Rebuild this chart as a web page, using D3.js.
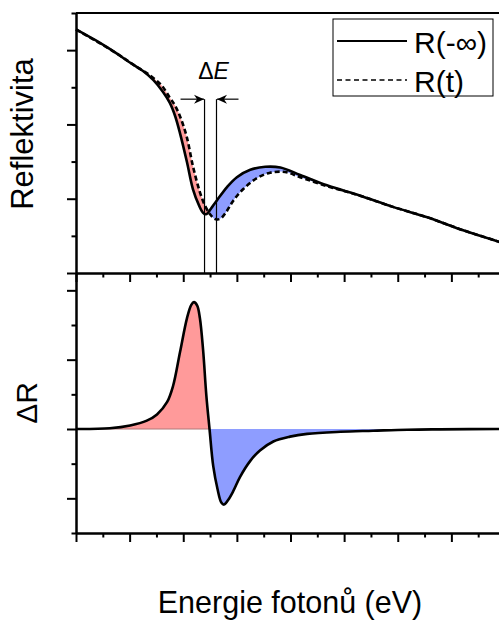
<!DOCTYPE html>
<html>
<head>
<meta charset="utf-8">
<script src="https://cdn.jsdelivr.net/npm/d3@7"></script>
<style>
  body { margin: 0; background: #fff; }
  text { font-family: "Liberation Sans", Arial, sans-serif; fill: #000; }
</style>
</head>
<body>
<div id="container"></div>
<script>
/* DATA */
// R(-inf), solid
const energySolid = [1.600, 1.637, 1.675, 1.699, 1.725, 1.744, 1.762, 1.775, 1.785, 1.794, 1.807, 1.818,
  1.830, 1.837, 1.842, 1.846, 1.854, 1.863, 1.882, 1.900, 1.925, 1.953, 1.981, 2.018, 2.068, 2.130,
  2.191, 2.255, 2.316, 2.389, 2.400];
const reflSolid = [0.528, 0.513, 0.496, 0.484, 0.472, 0.460, 0.444, 0.429, 0.411, 0.388, 0.349, 0.313,
  0.290, 0.281, 0.279, 0.281, 0.289, 0.298, 0.316, 0.329, 0.339, 0.343, 0.342, 0.332, 0.318, 0.304,
  0.289, 0.275, 0.259, 0.242, 0.239];

// R(t), dashed
const energyDashed = [1.600, 1.675, 1.712, 1.734, 1.759, 1.774, 1.785, 1.796, 1.807, 1.818, 1.831, 1.841,
  1.850, 1.858, 1.864, 1.871, 1.880, 1.893, 1.912, 1.938, 1.962, 1.990, 2.018, 2.068, 2.102, 2.130,
  2.191, 2.255, 2.316, 2.389, 2.400];
const reflDashed = [0.528, 0.496, 0.478, 0.468, 0.453, 0.437, 0.425, 0.407, 0.382, 0.344, 0.309, 0.290,
  0.279, 0.273, 0.272, 0.274, 0.282, 0.297, 0.313, 0.328, 0.335, 0.336, 0.329, 0.317, 0.310, 0.304,
  0.289, 0.275, 0.259, 0.242, 0.239];

// delta R = R(t) - R(-inf)
const energyDelta = [1.600, 1.663, 1.701, 1.732, 1.751, 1.770, 1.781, 1.794, 1.807, 1.815, 1.820, 1.826,
  1.831, 1.837, 1.843, 1.849, 1.856, 1.864, 1.871, 1.876, 1.884, 1.893, 1.906, 1.925, 1.943, 1.968,
  1.999, 2.031, 2.093, 2.154, 2.218, 2.279, 2.400];
const deltaR = [0.00, 0.01, 0.05, 0.12, 0.21, 0.39, 0.62, 1.11, 1.60, 1.79, 1.83, 1.78,
  1.60, 1.14, 0.49, 0.00, -0.54, -0.87, -1.06, -1.09, -1.02, -0.90, -0.69, -0.46, -0.31, -0.18,
  -0.11, -0.07, -0.04, -0.025, -0.01, -0.005, 0.00];

// shift markers (positions of the two minima)
const minSolid = 1.8397;
const minDashed = 1.862;
const markerTop = 0.434;

// ticks
const xMajor = [1.6, 1.7, 1.8, 1.9, 2.0, 2.1, 2.2, 2.3, 2.4];
const xMinor = [1.65, 1.75, 1.85, 1.95, 2.05, 2.15, 2.25, 2.35];
const rMajor = [0.2, 0.3, 0.4, 0.5];
const rMinor = [0.25, 0.35, 0.45, 0.55];
const dMajor = [-1, 0, 1, 2];
const dMinor = [-1.5, -0.5, 0.5, 1.5];

const legendLabels = ["R(-\u221E)", "R(t)"];

/* LAYOUT */
const width = 499, height = 620;
const left = 76, right = 505;
const topY = 13, midY = 273, botY = 533;

const svg = d3.select("#container")
  .append("svg")
  .attr("width", width)
  .attr("height", height);

/* SCALES */
const xScale = d3.scaleLinear().domain([1.6, 2.4]).range([left, right]);
const yTop = d3.scaleLinear().domain([0.2, 0.55]).range([midY, topY]);
const yBot = d3.scaleLinear().domain([-1.5, 2.25]).range([botY, midY]);

const solid = energySolid.map((e, i) => ({ e, r: reflSolid[i] }));
const dashed = energyDashed.map((e, i) => ({ e, r: reflDashed[i] }));
const delta = energyDelta.map((e, i) => ({ e, r: deltaR[i] }));

const defs = svg.append("defs");
const xCross = xScale(1.849);
defs.append("clipPath").attr("id", "clipLeft")
  .append("rect").attr("x", left).attr("y", topY).attr("width", xCross - left).attr("height", midY - topY);
defs.append("clipPath").attr("id", "clipRight")
  .append("rect").attr("x", xCross).attr("y", topY).attr("width", right - xCross).attr("height", midY - topY);
defs.append("clipPath").attr("id", "clipPos")
  .append("rect").attr("x", left).attr("y", midY).attr("width", right - left).attr("height", yBot(0) - midY);
defs.append("clipPath").attr("id", "clipNeg")
  .append("rect").attr("x", left).attr("y", yBot(0)).attr("width", right - left).attr("height", botY - yBot(0));

defs.append("marker")
  .attr("id", "arrow")
  .attr("viewBox", "0 -5 10 10")
  .attr("refX", 10).attr("refY", 0)
  .attr("markerWidth", 10).attr("markerHeight", 10)
  .attr("markerUnits", "userSpaceOnUse")
  .attr("orient", "auto")
  .append("path")
  .attr("d", "M0,-4.5L10,0L0,4.5L3,0Z")
  .attr("fill", "#000");

const red = "#ff9a9a", blue = "#8e9dff";

/* TOP PANEL */
const lineTop = d3.line().x(d => xScale(d.e)).y(d => yTop(d.r)).curve(d3.curveCatmullRom);

// band between the two curves
const band = lineTop(solid) + lineTop(dashed.slice().reverse()).replace(/^M/, "L") + "Z";
svg.append("path").attr("d", band).attr("fill", red).attr("clip-path", "url(#clipLeft)");
svg.append("path").attr("d", band).attr("fill", blue).attr("clip-path", "url(#clipRight)");

// vertical markers and arrows
[minSolid, minDashed].forEach(m => {
  svg.append("line")
    .attr("x1", xScale(m)).attr("x2", xScale(m))
    .attr("y1", yTop(markerTop)).attr("y2", midY)
    .attr("stroke", "#000").attr("stroke-width", 1.2);
});
svg.append("line")
  .attr("x1", xScale(minSolid) - 24).attr("x2", xScale(minSolid) - 0.5)
  .attr("y1", yTop(markerTop)).attr("y2", yTop(markerTop))
  .attr("stroke", "#000").attr("stroke-width", 1.2)
  .attr("marker-end", "url(#arrow)");
svg.append("line")
  .attr("x1", xScale(minDashed) + 22).attr("x2", xScale(minDashed) + 0.5)
  .attr("y1", yTop(markerTop)).attr("y2", yTop(markerTop))
  .attr("stroke", "#000").attr("stroke-width", 1.2)
  .attr("marker-end", "url(#arrow)");

const dE = svg.append("text")
  .attr("x", (xScale(minSolid) + xScale(minDashed)) / 2 + 3)
  .attr("y", 79)
  .attr("text-anchor", "middle")
  .style("font-size", "23px");
dE.append("tspan").text("\u0394");
dE.append("tspan").style("font-style", "italic").text("E");

svg.append("path").attr("d", lineTop(solid))
  .attr("fill", "none").attr("stroke", "#000").attr("stroke-width", 2.6);
svg.append("path").attr("d", lineTop(dashed))
  .attr("fill", "none").attr("stroke", "#000").attr("stroke-width", 2.6)
  .attr("stroke-dasharray", "5,3");

/* BOTTOM PANEL */
const area = d3.area().x(d => xScale(d.e)).y0(yBot(0)).y1(d => yBot(d.r)).curve(d3.curveCatmullRom);
svg.append("path").attr("d", area(delta)).attr("fill", red).attr("clip-path", "url(#clipPos)");
svg.append("path").attr("d", area(delta)).attr("fill", blue).attr("clip-path", "url(#clipNeg)");
svg.append("line")
  .attr("x1", left).attr("x2", xScale(1.849))
  .attr("y1", yBot(0)).attr("y2", yBot(0))
  .attr("stroke", "#b07878").attr("stroke-width", 1);

const lineBot = d3.line().x(d => xScale(d.e)).y(d => yBot(d.r)).curve(d3.curveCatmullRom);
svg.append("path").attr("d", lineBot(delta))
  .attr("fill", "none").attr("stroke", "#000").attr("stroke-width", 2.6);

/* AXES */
function styleAxis(g) {
  g.selectAll("path, line").attr("stroke", "#000").attr("stroke-width", 2);
  g.selectAll("text").remove();
}
function drawLeft(scale, major, minor) {
  svg.append("g").attr("transform", `translate(${left},0)`)
    .call(d3.axisLeft(scale).tickValues(major).tickSize(9).tickSizeOuter(0).tickFormat(""))
    .call(styleAxis);
  svg.append("g").attr("transform", `translate(${left},0)`)
    .call(d3.axisLeft(scale).tickValues(minor).tickSize(4.5).tickSizeOuter(0).tickFormat(""))
    .call(styleAxis);
}
function drawBottom(y) {
  svg.append("g").attr("transform", `translate(0,${y})`)
    .call(d3.axisBottom(xScale).tickValues(xMajor).tickSize(9).tickSizeOuter(0).tickFormat(""))
    .call(styleAxis);
  svg.append("g").attr("transform", `translate(0,${y})`)
    .call(d3.axisBottom(xScale).tickValues(xMinor).tickSize(4.5).tickSizeOuter(0).tickFormat(""))
    .call(styleAxis);
}
drawLeft(yTop, rMajor, rMinor);
drawLeft(yBot, dMajor, dMinor);
drawBottom(midY);
drawBottom(botY);

// frame top and right
svg.append("path")
  .attr("d", `M${left},${topY}H${right}V${botY}`)
  .attr("fill", "none").attr("stroke", "#000").attr("stroke-width", 2);

/* LEGEND */
const legend = svg.append("g").attr("transform", "translate(333,19)");
legend.append("rect").attr("width", 160).attr("height", 77)
  .attr("fill", "#fff").attr("stroke", "#000").attr("stroke-width", 1);
legend.append("line").attr("x1", 4).attr("x2", 74).attr("y1", 22).attr("y2", 22)
  .attr("stroke", "#000").attr("stroke-width", 2);
legend.append("line").attr("x1", 4).attr("x2", 74).attr("y1", 61).attr("y2", 61)
  .attr("stroke", "#000").attr("stroke-width", 1.6).attr("stroke-dasharray", "5,3.5");
legend.selectAll("text.lab")
  .data(legendLabels)
  .join("text")
  .attr("class", "lab")
  .attr("x", 81)
  .attr("y", (d, i) => 34 + i * 39)
  .style("font-size", "30px")
  .text(d => d);

/* AXIS TITLES */
svg.append("text")
  .attr("transform", "translate(33,134) rotate(-90)")
  .attr("text-anchor", "middle")
  .style("font-size", "31px")
  .text("Reflektivita");

svg.append("text")
  .attr("transform", "translate(37,403) rotate(-90)")
  .attr("text-anchor", "middle")
  .style("font-size", "30px")
  .text("\u0394R");

svg.append("text")
  .attr("x", 290)
  .attr("y", 613)
  .attr("text-anchor", "middle")
  .style("font-size", "30.5px")
  .text("Energie fotonů (eV)");
</script>
</body>
</html>
